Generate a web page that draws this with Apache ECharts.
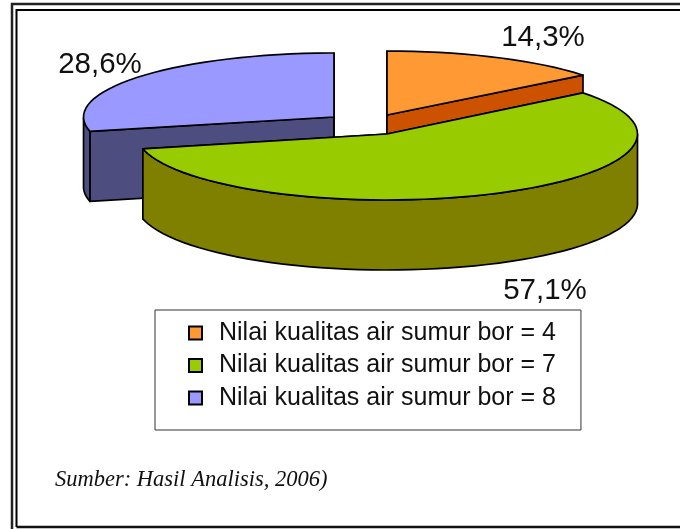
<!DOCTYPE html>
<html><head><meta charset="utf-8">
<style>html,body{margin:0;padding:0;background:#fff}#c{width:680px;height:529px}</style>
<script src="https://cdn.jsdelivr.net/npm/echarts@6/dist/echarts.min.js"></script>
</head><body><div id="c"></div>
<script>
const categories = ['Nilai kualitas air sumur bor = 4','Nilai kualitas air sumur bor = 7','Nilai kualitas air sumur bor = 8'];
const percents = [14.3, 57.1, 28.6];
const topColors = ['#FF9933','#99CC00','#9999FF'];
const sideColors = ['#CC5200','#808000','#4D4D80'];
const sourceNote = 'Sumber: Hasil Analisis, 2006)';
// layout of the exploded slices
const centers = [[387,115],[387,134],[334,117]];
const radiiY = [64,66,64];
const labelPos = [[543,38],[545,291],[100,65]];
const stacking = [2,3,1];
const RX = 250.5, DEPTH = 70, FONT = 'Liberation Sans, Arial, sans-serif';
const total = percents.reduce((a,b)=>a+b,0);
function startAngle(i){ let s=0; for(let k=0;k<i;k++) s+=percents[k]; return s/total*360; }

function slice(i){
  return function(params, api){
    const [cx,cy] = centers[i];
    const RY = radiiY[i];
    const a0 = startAngle(i), a1 = a0 + percents[i]/total*360;
    const pt = (deg,d=0)=>{ const r=deg*Math.PI/180; return [cx+RX*Math.sin(r), cy-RY*Math.cos(r)+d]; };
    const rim = [];
    for(let a=a0;a<a1;a+=3) rim.push(a);
    rim.push(a1);
    const st = c=>({fill:c,stroke:'#000',lineWidth:1.7,lineJoin:'round'});
    const kids = [];
    const z = stacking[i]*10;
    // cut faces
    [a0,a1].forEach(a=>{
      const p = pt(a);
      kids.push({type:'polygon',z2:z,shape:{points:[[cx,cy],p,[p[0],p[1]+DEPTH],[cx,cy+DEPTH]]},style:st(sideColors[i])});
    });
    // outer wall: front half of the rim only (angles 90..270)
    const front = rim.filter(a=>a>=90&&a<=270);
    if(front.length>1){
      const up = front.map(a=>pt(a));
      const down = front.map(a=>pt(a,DEPTH)).reverse();
      kids.push({type:'polygon',z2:z+1,shape:{points:up.concat(down)},style:st(sideColors[i])});
    }
    // top face
    kids.push({type:'polygon',z2:z+2,shape:{points:[[cx,cy]].concat(rim.map(a=>pt(a)))},style:st(topColors[i])});
    // percent label
    kids.push({type:'text',z2:100,style:{x:labelPos[i][0],y:labelPos[i][1],text:api.value(0).toFixed(1).replace('.',',')+'%',
      font:'29.5px '+FONT,fill:'#111',align:'center',verticalAlign:'middle'}});
    return {type:'group',children:kids};
  };
}

const chart = echarts.init(document.getElementById('c'),null,{renderer:'canvas'});
chart.setOption({
  animation:false,
  backgroundColor:'#fff',
  title:{text:sourceNote,left:55,top:467.5,padding:0,textStyle:{fontFamily:'Liberation Serif',fontStyle:'italic',fontWeight:'normal',fontSize:22.5,lineHeight:26,color:'#111'}},
  legend:{data:categories,orient:'vertical',left:155,top:310,padding:[10,25,19,33],
    backgroundColor:'#fff',borderColor:'#333',borderWidth:1,
    icon:'rect',itemWidth:13,itemHeight:13,itemGap:6.5,selectedMode:false,
    textStyle:{fontFamily:'Liberation Sans',fontSize:25,lineHeight:26,color:'#111',padding:[0,0,0,12]}},
  graphic:[
    {type:'polyline',silent:true,z:-1,shape:{points:[[12,529],[12,4],[680,4]]},style:{fill:'none',stroke:'#222',lineWidth:2.5}},
    {type:'polyline',silent:true,z:-1,shape:{points:[[16.5,527],[16.5,10],[680,10]]},style:{fill:'none',stroke:'#000',lineWidth:2}},
    {type:'line',silent:true,z:-1,shape:{x1:16.5,y1:527,x2:680,y2:527},style:{stroke:'#111',lineWidth:2.5}}
  ],
  series:categories.map((name,i)=>({
    type:'custom',name,coordinateSystem:'none',z:2+stacking[i],clip:false,
    itemStyle:{color:topColors[i],borderColor:'#000',borderWidth:1.4},
    data:[[percents[i]]],
    renderItem:slice(i)
  }))
});
</script></body></html>
